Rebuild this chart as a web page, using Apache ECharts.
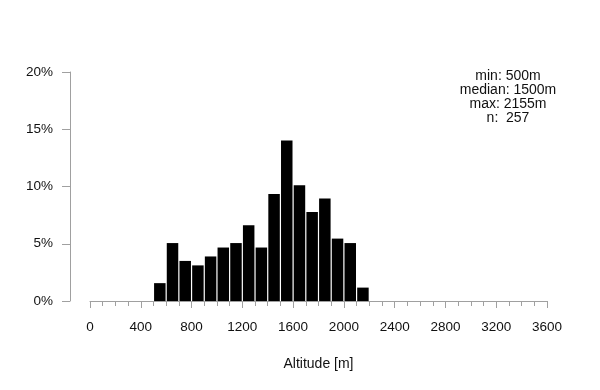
<!DOCTYPE html>
<html>
<head>
<meta charset="utf-8">
<script src="https://cdn.jsdelivr.net/npm/echarts@6/dist/echarts.min.js"></script>
<style>
  html, body { margin: 0; padding: 0; background: #fff; }
  #chart { width: 600px; height: 390px; }
</style>
</head>
<body>
<div id="chart"></div>
<script>
// histogram bins (m), 100 m wide
const binStarts = [500, 600, 700, 800, 900, 1000, 1100, 1200, 1300, 1400, 1500, 1600, 1700, 1800, 1900, 2000, 2100];
const binWidth = 100;
// share of observations per bin (%)
const percents = [1.56, 5.06, 3.50, 3.11, 3.89, 4.67, 5.06, 6.61, 4.67, 9.34, 14.01, 10.12, 7.78, 8.95, 5.45, 5.06, 1.17];
const statsLines = ['min: 500m', 'median: 1500m', 'max: 2155m', 'n:  257'];

const axisGrey = '#a0a0a0';
const textColor = '#111';
const font = '"Liberation Sans", Arial, sans-serif';

const data = binStarts.map((s, i) => [s, s + binWidth, percents[i]]);

const chart = echarts.init(document.getElementById('chart'));
chart.setOption({
  animation: false,
  backgroundColor: '#fff',
  grid: { left: 90, right: 53, top: 72, bottom: 89 },
  xAxis: {
    type: 'value',
    min: 0,
    max: 3600,
    interval: 400,
    name: 'Altitude [m]',
    nameLocation: 'middle',
    nameGap: 56,
    nameTextStyle: { color: textColor, fontFamily: font, fontSize: 14 },
    axisLine: { show: true, onZero: false, lineStyle: { color: axisGrey, width: 1 } },
    axisTick: { show: true, length: 7, lineStyle: { color: axisGrey } },
    minorTick: { show: true, splitNumber: 4, length: 5, lineStyle: { color: axisGrey } },
    axisLabel: { color: textColor, fontFamily: font, fontSize: 13.5, margin: 19, formatter: v => String(v) },
    splitLine: { show: false }
  },
  yAxis: {
    type: 'value',
    min: 0,
    max: 20,
    interval: 5,
    offset: 20,
    axisLine: { show: true, onZero: false, lineStyle: { color: axisGrey, width: 1 } },
    axisTick: { show: true, length: 8, lineStyle: { color: axisGrey } },
    axisLabel: { color: textColor, fontFamily: font, fontSize: 13.5, margin: 17, formatter: '{value}%' },
    splitLine: { show: false }
  },
  graphic: statsLines.map((line, i) => ({
    type: 'text',
    x: 508,
    y: 69 + i * 14,
    style: {
      text: line,
      align: 'center',
      verticalAlign: 'top',
      fill: textColor,
      font: '14px ' + font
    }
  })),
  series: [{
    type: 'custom',
    data: data,
    encode: { x: [0, 1], y: 2 },
    renderItem: function (params, api) {
      const top = api.coord([api.value(0), api.value(2)]);
      const bottom = api.coord([api.value(1), 0]);
      return {
        type: 'rect',
        shape: {
          x: top[0] + 0.6,
          y: top[1],
          width: bottom[0] - top[0] - 1.2,
          height: bottom[1] - top[1]
        },
        style: { fill: '#000' }
      };
    }
  }]
});
</script>
</body>
</html>
